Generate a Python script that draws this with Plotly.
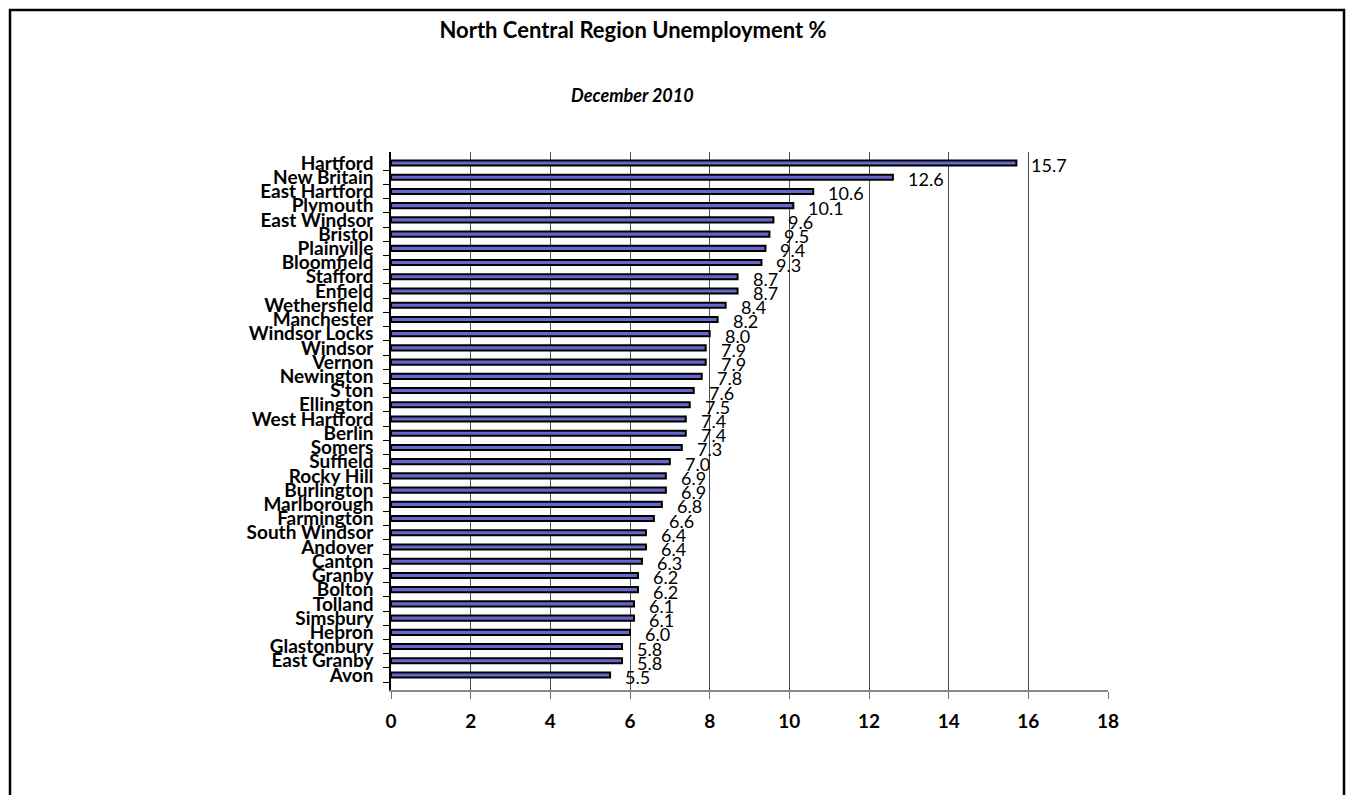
import plotly.graph_objects as go

towns = ["Hartford", "New Britain", "East Hartford", "Plymouth", "East Windsor", "Bristol",
         "Plainville", "Bloomfield", "Stafford", "Enfield", "Wethersfield", "Manchester",
         "Windsor Locks", "Windsor", "Vernon", "Newington", "S'ton", "Ellington",
         "West Hartford", "Berlin", "Somers", "Suffield", "Rocky Hill", "Burlington",
         "Marlborough", "Farmington", "South Windsor", "Andover", "Canton", "Granby",
         "Bolton", "Tolland", "Simsbury", "Hebron", "Glastonbury", "East Granby", "Avon"]
rates = [15.7, 12.6, 10.6, 10.1, 9.6, 9.5, 9.4, 9.3, 8.7, 8.7, 8.4, 8.2, 8.0, 7.9, 7.9,
         7.8, 7.6, 7.5, 7.4, 7.4, 7.3, 7.0, 6.9, 6.9, 6.8, 6.6, 6.4, 6.4, 6.3, 6.2, 6.2,
         6.1, 6.1, 6.0, 5.8, 5.8, 5.5]
x_ticks = [0, 2, 4, 6, 8, 10, 12, 14, 16, 18]

FONT = "Lato"

fig = go.Figure()
fig.add_trace(go.Bar(
    x=rates, y=towns, orientation="h",
    width=0.36,
    marker=dict(color="#6666CC", line=dict(color="black", width=2)),
    hoverinfo="x+y",
))

for t, v in zip(towns, rates):
    fig.add_annotation(x=v, y=t, text=f"{v:.1f}", showarrow=False,
                       xanchor="left", yanchor="middle", xshift=13, yshift=-2,
                       font=dict(family=FONT, size=18, color="black"))

fig.update_layout(
    width=1348, height=795,
    margin=dict(l=391, r=240, t=152, b=105),
    paper_bgcolor="white", plot_bgcolor="white",
    showlegend=False,
    title=dict(text="<b>North Central Region Unemployment %</b>",
               x=633 / 1348, xanchor="center", xref="container",
               y=1 - 30 / 795, yanchor="middle", yref="container",
               font=dict(family=FONT, size=22, color="black")),
)
fig.add_annotation(text="<b><i>December 2010</i></b>", xref="paper", yref="paper",
                   x=(632 - 391) / 717, y=(690 - 95) / 538, showarrow=False,
                   xanchor="center", yanchor="middle",
                   font=dict(family=FONT, size=18, color="black"))

fig.update_xaxes(range=[0, 18], tickmode="array", tickvals=x_ticks,
                 ticktext=[str(v) for v in x_ticks],
                 showgrid=True, gridcolor="#4d4d4d", gridwidth=1,
                 showline=True, linecolor="#8a8a8a", linewidth=1.5,
                 ticks="outside", ticklen=7, tickcolor="#6e6e6e",
                 zeroline=False, ticklabelstandoff=6,
                 tickfont=dict(family=FONT, size=19, color="black", weight="bold"),
                 fixedrange=True)
fig.update_yaxes(categoryorder="array", categoryarray=towns[::-1],
                 tickmode="array", tickvals=towns, ticktext=towns,
                 showline=True, linecolor="black", linewidth=1.5,
                 ticks="outside", ticklen=6, tickcolor="black", tickson="boundaries",
                 showgrid=False, ticklabelstandoff=12,
                 tickfont=dict(family=FONT, size=19, color="black", weight="bold"),
                 fixedrange=True)

# outer chart border
fig.add_shape(type="rect", xref="paper", yref="paper",
              x0=(10 - 391) / 717, x1=(1344 - 391) / 717,
              y0=(690 - 820) / 538, y1=(690 - 10) / 538,
              line=dict(color="black", width=2.5), fillcolor="rgba(0,0,0,0)", layer="above")

fig.write_html("out.html")
